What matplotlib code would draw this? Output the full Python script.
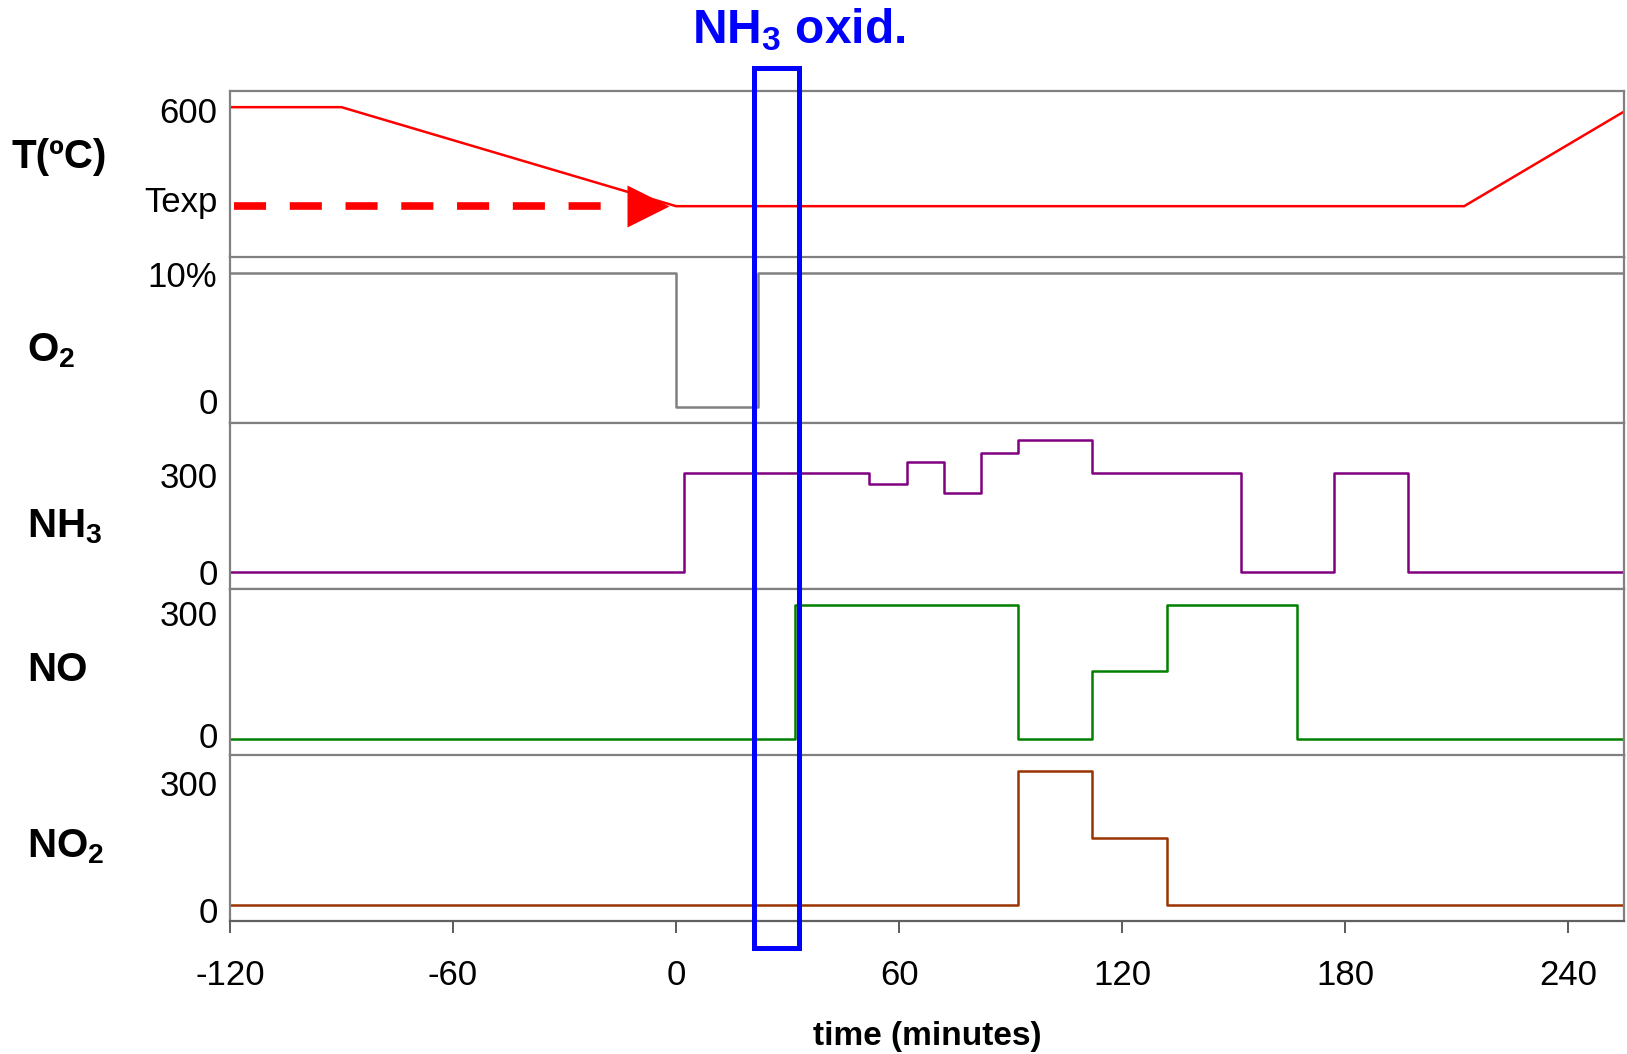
import matplotlib.pyplot as plt
from matplotlib.patches import Rectangle
from matplotlib.transforms import blended_transform_factory, ScaledTranslation

plt.rcParams['font.family'] = 'Liberation Sans'
plt.rcParams['mathtext.fontset'] = 'custom'
plt.rcParams['mathtext.rm'] = 'Liberation Sans'
plt.rcParams['mathtext.bf'] = 'Liberation Sans:bold'
plt.rcParams['mathtext.it'] = 'Liberation Sans:italic'

# temperature program (minutes, degC); Texp is drawn at 300
t_time = [-120, -90, 0, 212, 257]
t_temp = [600, 600, 300, 300, 600]
texp = 300

# feed steps: time of each change (minutes) and the level held from then on
o2_time = [-120, 0, 22, 255]
o2_level = [10, 0, 10, 10]
nh3_time = [-120, 2, 52, 62, 72, 82, 92, 112, 152, 177, 197, 255]
nh3_level = [0, 300, 267, 335, 240, 360, 400, 300, 0, 300, 0, 0]
no_time = [-120, 32, 92, 112, 132, 167, 255]
no_level = [0, 300, 0, 153, 300, 0, 0]
no2_time = [-120, 92, 112, 132, 255]
no2_level = [0, 300, 150, 0, 0]

xticks = [-120, -60, 0, 60, 120, 180, 240]
oxid_window = (21, 33)

W, H = 1627, 1054
fig, axes = plt.subplots(5, 1, sharex=True, figsize=(W / 100, H / 100), dpi=100)
fig.subplots_adjust(left=230 / W, right=1624 / W, top=1 - 91 / H, bottom=1 - 921 / H, hspace=0)

# label, ylim, ticks, tick labels, label shifts (px, + = down), name baseline, name x
panels = [
    (r'T(ºC)', (146, 649), [texp, 600], ['Texp', '600'], [-7, 3], 168, 11),
    (r'O$_\mathbf{2}$', (-1.21, 11.21), [0, 10], ['0', '10%'], [-6, 1], 361, 27),
    (r'NH$_\mathbf{3}$', (-50.6, 452), [0, 300], ['0', '300'], [0, 2], 537, 27),
    (r'NO', (-37, 337), [0, 300], ['0', '300'], [-4, 8], 681, 27),
    (r'NO$_\mathbf{2}$', (-36.4, 337), [0, 300], ['0', '300'], [5, 12], 857, 27),
]

for ax, (lab, ylim, yt, ytl, shifts, ybase, xl) in zip(axes, panels):
    ax.set_xlim(-120, 255)
    ax.set_ylim(*ylim)
    ax.set_yticks(yt)
    ax.set_yticklabels(ytl)
    ax.tick_params(axis='y', length=0, pad=9, labelsize=25)
    ax.tick_params(axis='x', length=0)
    for t, dy in zip(ax.get_yticklabels(), shifts):
        t.set_transform(t.get_transform() + ScaledTranslation(0, -dy / 100, fig.dpi_scale_trans))
    for s in ax.spines.values():
        s.set_color('#808080')
        s.set_linewidth(1.6)
    fig.text(xl / W, 1 - ybase / H, lab, fontsize=29, fontweight='bold',
             ha='left', va='baseline')

# thinner dark separators
axes[0].spines['bottom'].set_color('#404040')
axes[0].spines['bottom'].set_linewidth(1)
axes[3].spines['bottom'].set_color('#404040')
axes[3].spines['bottom'].set_linewidth(1)
axes[4].spines['bottom'].set_color('#606060')

# temperature
ax = axes[0]
ax.plot(t_time, t_temp, color='#ff0000', lw=1.8)
ax.plot([-119, -19.5], [texp, texp], color='#ff0000', lw=5.5,
        dashes=(4.2, 3.1), solid_capstyle='butt', dash_capstyle='butt')
ax.plot(-7.5, texp, marker='>', ms=30, color='#ff0000', mec='none')

axes[1].step(o2_time, o2_level, where='post', color='#808080', lw=1.8)
axes[2].step(nh3_time, nh3_level, where='post', color='#800080', lw=1.8)
axes[3].step(no_time, no_level, where='post', color='#008000', lw=1.8)
axes[4].step(no2_time, no2_level, where='post', color='#993300', lw=1.8)

bx = axes[4]
bx.set_xticks(xticks)
bx.set_xticklabels([str(v) for v in xticks])
bx.tick_params(axis='x', direction='out', length=8.6, width=1.2,
               color='#404040', labelsize=25, pad=19)
bx.set_xlabel('time (minutes)', fontsize=24, fontweight='bold', labelpad=21)

# oxidation window box spanning all panels
trans = blended_transform_factory(bx.transData, fig.transFigure)
y0, y1 = 1 - 948 / H, 1 - 67.5 / H
fig.add_artist(Rectangle((oxid_window[0], y0), oxid_window[1] - oxid_window[0], y1 - y0,
                         transform=trans, fill=False, edgecolor='#0000ff', lw=3.6,
                         zorder=10, clip_on=False))
fig.text(799 / W, 1 - 43.5 / H, r'NH$_\mathbf{3}$ oxid.', color='#0000ff',
         fontsize=34.5, fontweight='bold', ha='center', va='baseline')

fig.savefig('out.png', dpi=100)
